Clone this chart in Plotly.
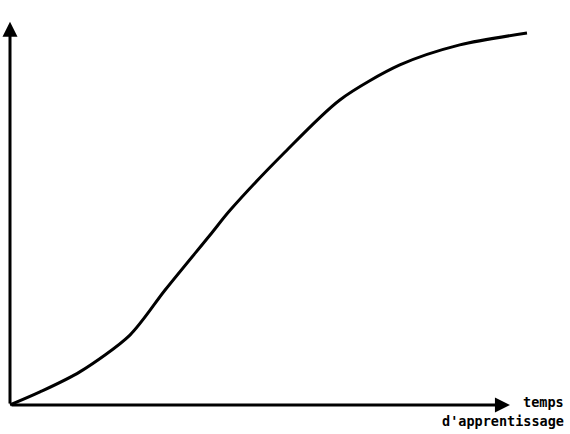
import plotly.graph_objects as go

# Learning curve (S-shaped), abstract units 0-100
temps = [0, 5.8, 13.5, 23.2, 30.0, 38.7, 42.6, 53.2, 63.8, 75.4, 87.0, 100]
performance = [0, 3.5, 8.9, 18.8, 30.9, 45.7, 52.4, 68.0, 82.0, 91.4, 96.8, 100]
x_label_lines = ["temps", "d'apprentissage"]

fig = go.Figure()
fig.add_trace(go.Scatter(
    x=temps, y=performance, mode="lines",
    line=dict(color="black", width=3, shape="spline", smoothing=0.8),
    hoverinfo="skip", showlegend=False,
))

# axes with arrows
fig.add_annotation(x=0, y=103, ax=0, ay=0, xref="x", yref="y", axref="x", ayref="y",
                   showarrow=True, arrowhead=2, arrowsize=1.0, arrowwidth=3,
                   arrowcolor="black", text="")
fig.add_annotation(x=96.7, y=0, ax=0, ay=0, xref="x", yref="y", axref="x", ayref="y",
                   showarrow=True, arrowhead=2, arrowsize=1.0, arrowwidth=3,
                   arrowcolor="black", text="")

font = dict(family="DejaVu Sans Mono", size=13.5, color="black")
fig.add_annotation(x=107.5, y=0.8, xref="x", yref="y", xanchor="right", yanchor="middle",
                   text="<b>%s</b>" % x_label_lines[0], showarrow=False, font=font)
fig.add_annotation(x=107.5, y=-4.3, xref="x", yref="y", xanchor="right", yanchor="middle",
                   text="<b>%s</b>" % x_label_lines[1], showarrow=False, font=font)

fig.update_layout(
    width=570, height=434,
    margin=dict(l=0, r=0, t=0, b=0),
    paper_bgcolor="white", plot_bgcolor="white",
    xaxis=dict(range=[-1.934, 108.32], visible=False, fixedrange=True),
    yaxis=dict(range=[-7.80, 108.87], visible=False, fixedrange=True),
)

fig.write_html("out.html", config={"displayModeBar": False},
               post_script="document.body.style.margin='0';document.body.style.overflow='hidden';")
